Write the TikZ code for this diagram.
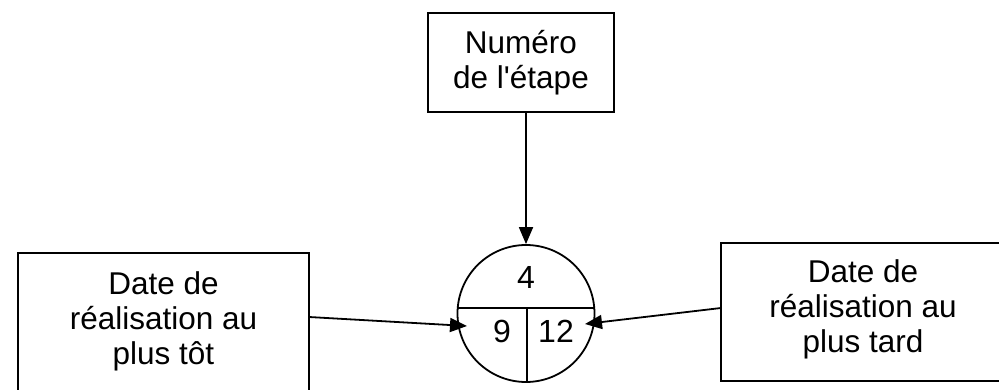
\documentclass[tikz,border=0pt]{standalone}
\usepackage{fontspec}
% plain family: keeps the straight apostrophe
\newfontfamily\labelfont{Liberation Sans}
\usetikzlibrary{arrows.meta}
\begin{document}
\begin{tikzpicture}[x=1pt,y=-1pt,
  line width=1.8pt,
  frame/.style={draw,rectangle,inner sep=0pt},
  label text/.style={inner sep=0pt,align=center,
    font=\labelfont\fontsize{31.5}{35}\selectfont},
  num/.style={inner sep=0pt,anchor=base,font=\labelfont\fontsize{32}{36}\selectfont},
  arr/.style={-{Triangle[length=17pt,width=14pt]}}]
  \useasboundingbox (0,0) rectangle (999,390);

  % boxes (the lower two run past the page edge)
  \node[frame,minimum width=186pt,minimum height=99pt] (stepnum) at (521,62.5) {};
  \node[label text] (stepnumtxt) at (521,62.5) {Numéro\\de l'étape};
  \node[frame,minimum width=291pt,minimum height=146pt] (early) at (163.5,326) {};
  \node[label text] (earlytxt) at (163.5,321) {Date de\\réalisation au\\plus tôt};
  \node[frame,minimum width=284pt,minimum height=138pt] (late) at (863,312) {};
  \node[label text] (latetxt) at (863,309) {Date de\\réalisation au\\plus tard};

  % event circle, split into three fields
  \node[draw,circle,minimum size=137pt,inner sep=0pt] (evt) at (526,313.5) {};
  \coordinate (hl) at (457.7,308);
  \coordinate (hr) at (594.3,308);
  \coordinate (vt) at (527,308);
  \coordinate (vb) at (527,382);
  \draw (hl) -- (hr);
  \draw (vt) -- (vb);
  \node[num] (n4) at (526,288) {4};
  \node[num] (n9) at (502,342) {9};
  \node[num] (n12) at (556,342) {12};

  % connectors
  \coordinate (es) at (309,317);
  \coordinate (et) at (467,326);
  \coordinate (ls) at (721,308);
  \coordinate (lt) at (585,324);
  \draw[arr] (stepnum.south -| evt.north) -- (evt.north);
  \draw[arr] (es) -- (et);
  \draw[arr] (ls) -- (lt);
\end{tikzpicture}
\end{document}
